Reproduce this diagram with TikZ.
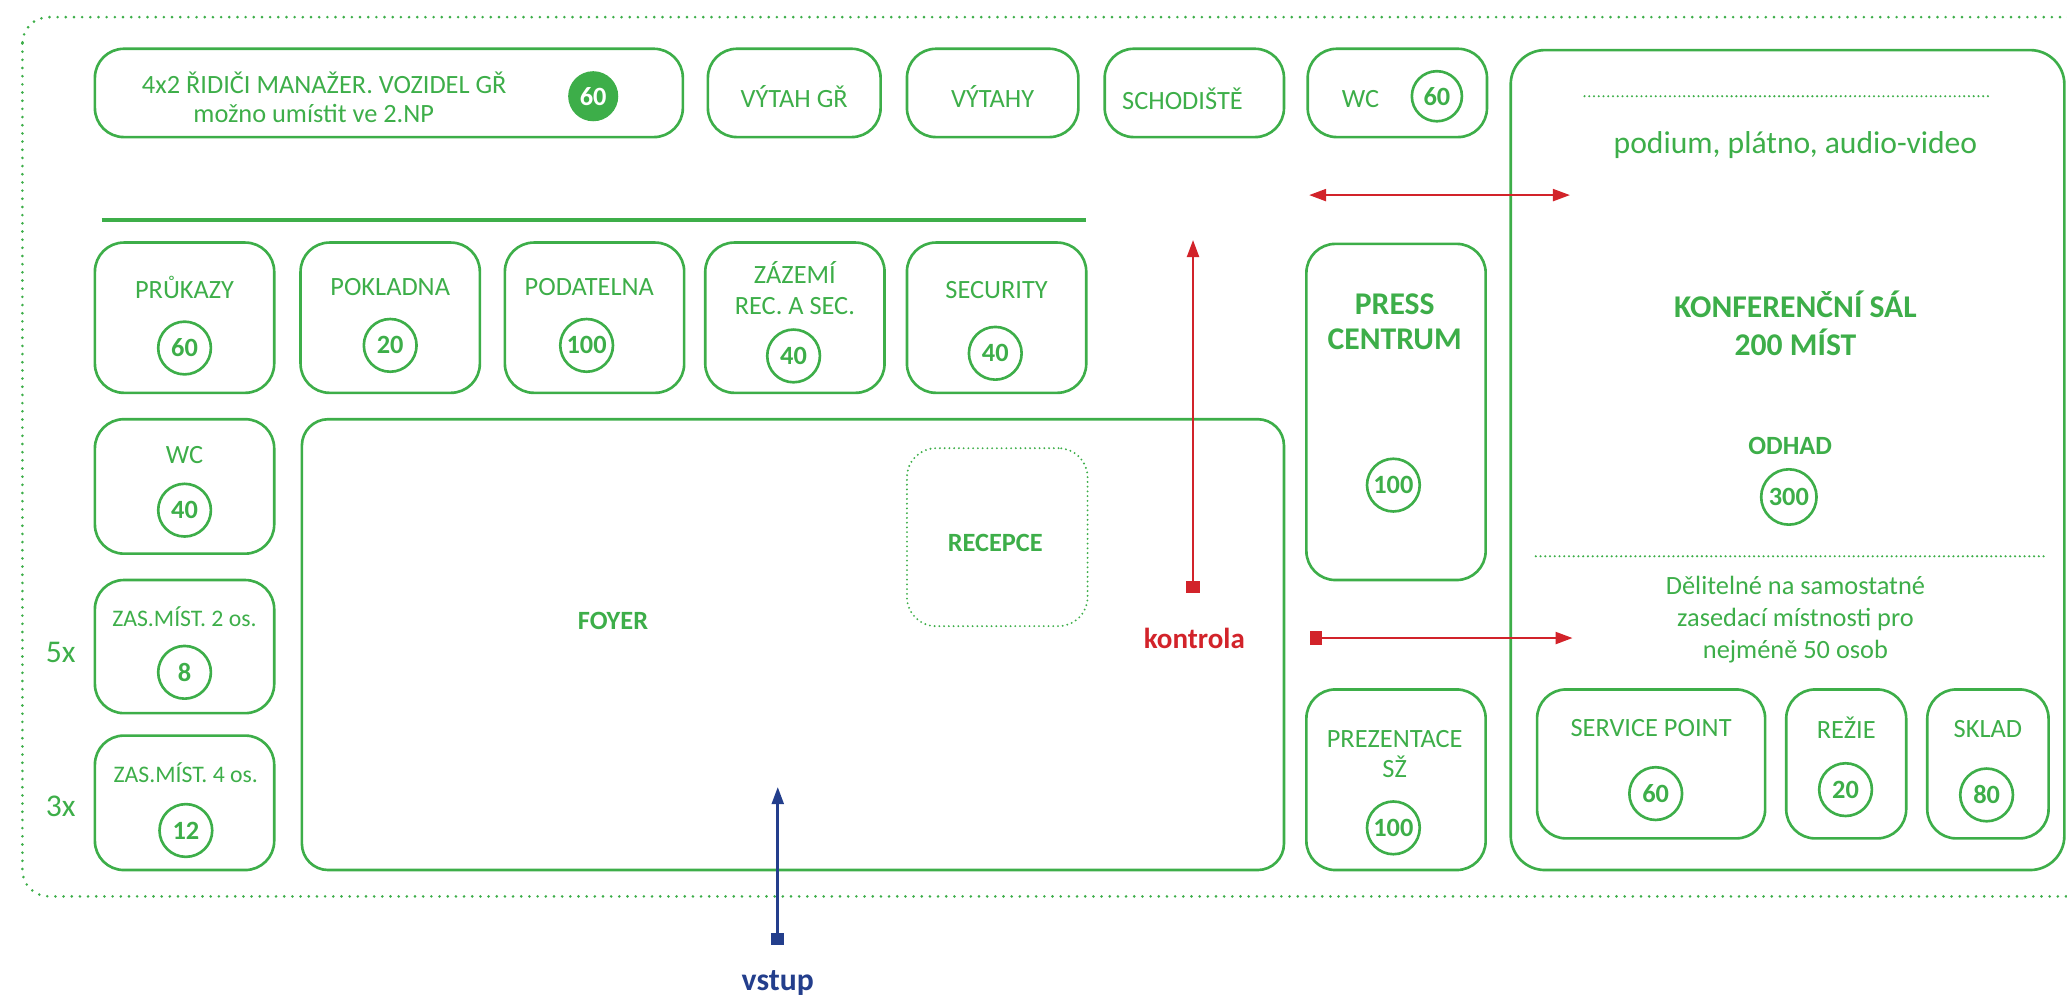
\documentclass[tikz,border=0pt]{standalone}
\usepackage{fontspec}
\setmainfont{Carlito}
\usetikzlibrary{arrows.meta}
\definecolor{grn}{RGB}{61,174,73}
\definecolor{rd}{RGB}{210,35,42}
\definecolor{bl}{RGB}{35,62,140}
\newcommand{\fsz}[1]{\fontsize{#1}{#1*1.2}\selectfont}
\begin{document}
\begin{tikzpicture}[x=1pt,y=-1pt,
  room/.style={draw=grn, line width=2pt, rounded corners=22pt, inner sep=0pt},
  lbl/.style={text=grn, font=\fontsize{20}{24}\selectfont, align=center, inner sep=0pt},
  blbl/.style={text=grn, font=\fontsize{20}{24}\selectfont\bfseries, align=center, inner sep=0pt},
  num/.style={circle, draw=grn, line width=2pt, minimum size=40pt, inner sep=0pt, text=grn, font=\fontsize{20}{24}\selectfont\bfseries},
  framedot/.style={draw=grn, line width=2.2pt, line cap=round, dash pattern=on 0pt off 6.2pt},
  finedot/.style={draw=grn, line width=1.8pt, line cap=round, dash pattern=on 0pt off 3.6pt},
  redarr/.style={draw=rd, line width=2pt},
  bluearr/.style={draw=bl, line width=2pt}]
\useasboundingbox (0,0) rectangle (1568,759.4);
\clip (0,0) rectangle (1568,759.4);
% outer dotted frame
\draw[framedot, rounded corners=20pt] (17,13) rectangle (1640,680);
% top row
\node[room, minimum width=446pt, minimum height=67pt] (mgr) at (295,70.5) {};
\node[lbl] (mgrA) at (246,63) {4x2 ŘIDIČI MANAŽER. VOZIDEL GŘ};
\node[lbl] (mgrB) at (238,86) {možno umístit ve 2.NP};
\node[circle, fill=grn, minimum size=38pt, inner sep=0pt, text=white, font=\fontsize{20}{24}\selectfont\bfseries] (mgrN) at (450,73) {60};
\node[room, minimum width=131pt, minimum height=67pt] (vgr) at (602.5,70.5) {};
\node[lbl] (vgrT) at (602.5,73) {VÝTAH GŘ};
\node[room, minimum width=130pt, minimum height=67pt] (vyt) at (753,70.5) {};
\node[lbl] (vytT) at (753,73) {VÝTAHY};
\node[room, minimum width=136pt, minimum height=67pt] (sch) at (906,70.5) {};
\node[lbl] (schT) at (897,75) {SCHODIŠTĚ};
\node[room, minimum width=136pt, minimum height=67pt] (wcA) at (1060,70.5) {};
\node[lbl] (wcAT) at (1032,75) {WC};
\node[num, minimum size=38pt] (wcAN) at (1090,73) {60};
% separator line
\draw[grn, line width=2.6pt] (77,167) -- (824,167);
% row 2
\node[room, minimum width=136pt, minimum height=114pt] (pru) at (140,241) {};
\node[lbl] (pruT) at (140,218) {PRŮKAZY};
\node[num] (pruN) at (140,264) {60};
\node[room, minimum width=136pt, minimum height=114pt] (pok) at (296,241) {};
\node[lbl] (pokT) at (296,218) {POKLADNA};
\node[num] (pokN) at (296,262) {20};
\node[room, minimum width=136pt, minimum height=114pt] (pod) at (451,241) {};
\node[lbl] (podT) at (447,218) {PODATELNA};
\node[num] (podN) at (445,262) {100};
\node[room, minimum width=136pt, minimum height=114pt] (zaz) at (603,241) {};
\node[lbl] (zazT) at (603,218.5) {ZÁZEMÍ\\[-1pt]REC. A SEC.};
\node[num] (zazN) at (602,270) {40};
\node[room, minimum width=136pt, minimum height=114pt] (sec) at (756,241) {};
\node[lbl] (secT) at (756,220) {SECURITY};
\node[num] (secN) at (755,268) {40};
% left column
\node[room, minimum width=136pt, minimum height=102pt] (wcB) at (140,369) {};
\node[lbl] (wcBT) at (140,345) {WC};
\node[num] (wcBN) at (140,387) {40};
\node[room, minimum width=136pt, minimum height=101pt] (zas2) at (140,490.5) {};
\node[lbl, font=\fontsize{18}{22}\selectfont] (zas2T) at (140,468) {ZAS.MÍST. 2 os.};
\node[num] (zas2N) at (140,510) {8};
\node[room, minimum width=136pt, minimum height=102pt] (zas4) at (140,609) {};
\node[lbl, font=\fontsize{18}{22}\selectfont] (zas4T) at (141,586) {ZAS.MÍST. 4 os.};
\node[num] (zas4N) at (141,630) {12};
\node[lbl, font=\fontsize{24}{28}\selectfont] (m5) at (46,495) {5x};
\node[lbl, font=\fontsize{24}{28}\selectfont] (m3) at (46,612) {3x};
% foyer
\node[room, rounded corners=20pt, minimum width=745pt, minimum height=342pt] (foy) at (601.5,489) {};
\node[blbl] (foyT) at (465,471) {FOYER};
\node[draw=grn, line width=1.6pt, line cap=round, dash pattern=on 0pt off 3.6pt, rounded corners=22pt, minimum width=137pt, minimum height=135pt, inner sep=0pt] (rec) at (756.5,407.5) {};
\node[blbl] (recT) at (755,412) {RECEPCE};
% press, prezentace
\node[room, minimum width=136pt, minimum height=255pt] (prs) at (1059,312.5) {};
\node[blbl, font=\fontsize{24}{28}\selectfont\bfseries] (prsT) at (1058,244) {PRESS\\[-2pt]CENTRUM};
\node[num] (prsN) at (1057,368) {100};
\node[room, minimum width=136pt, minimum height=137pt] (prz) at (1059,591.5) {};
\node[lbl] (przT) at (1058,572) {PREZENTACE\\[-1pt]SŽ};
\node[num] (przN) at (1057,628) {100};
% conference hall
\node[room, rounded corners=26pt, minimum width=420pt, minimum height=622pt] (hall) at (1356,349) {};
\draw[finedot] (1202,73) -- (1510,73);
\node[lbl, font=\fontsize{24}{28}\selectfont] (hallA) at (1362,110) {podium, plátno, audio-video};
\node[blbl, font=\fontsize{24}{29}\selectfont\bfseries] (hallB) at (1362,245) {KONFERENČNÍ SÁL\\200 MÍST};
\node[blbl] (odh) at (1358,338) {ODHAD};
\node[num, minimum size=42pt] (odhN) at (1357,377) {300};
\draw[finedot] (1165,422) -- (1553,422);
\node[lbl, font=\fontsize{20}{24}\selectfont] (hallC) at (1362,470) {Dělitelné na samostatné\\zasedací místnosti pro\\nejméně 50 osob};
\node[room, minimum width=173pt, minimum height=113pt] (svc) at (1252.5,579.5) {};
\node[lbl] (svcT) at (1252.5,552) {SERVICE POINT};
\node[num] (svcN) at (1256,602) {60};
\node[room, minimum width=91pt, minimum height=113pt] (rez) at (1400.5,579.5) {};
\node[lbl] (rezT) at (1400.5,552) {REŽIE};
\node[num] (rezN) at (1400,599) {20};
\node[room, minimum width=92pt, minimum height=113pt] (skl) at (1508,579.5) {};
\node[lbl] (sklT) at (1508,553) {SKLAD};
\node[num] (sklN) at (1507,603) {80};
% arrows
\coordinate (kb) at (905,450);
\coordinate (kt) at (905,182);
\draw[redarr, {Square[length=9pt,width=10pt]}-{Triangle[length=13pt,width=9pt]}] (kb) -- (kt);
\node[text=rd, font=\fontsize{22}{26}\selectfont\bfseries, inner sep=0pt] (kon) at (906,484) {kontrola};
\coordinate (ha1) at (993,148);
\coordinate (ha2) at (1191,148);
\draw[redarr, {Triangle[length=13pt,width=9pt]}-{Triangle[length=13pt,width=9pt]}] (ha1) -- (ha2);
\coordinate (hb1) at (994,484);
\coordinate (hb2) at (1193,484);
\draw[redarr, {Square[length=9pt,width=10pt]}-{Triangle[length=13pt,width=9pt]}] (hb1) -- (hb2);
\coordinate (vb) at (590,717);
\coordinate (vt) at (590,597);
\draw[bluearr, {Square[length=9pt,width=10pt]}-{Triangle[length=13pt,width=9pt]}] (vb) -- (vt);
\node[text=bl, font=\fontsize{24}{28}\selectfont\bfseries, inner sep=0pt] (vst) at (590,746) {vstup};
\end{tikzpicture}
\end{document}
